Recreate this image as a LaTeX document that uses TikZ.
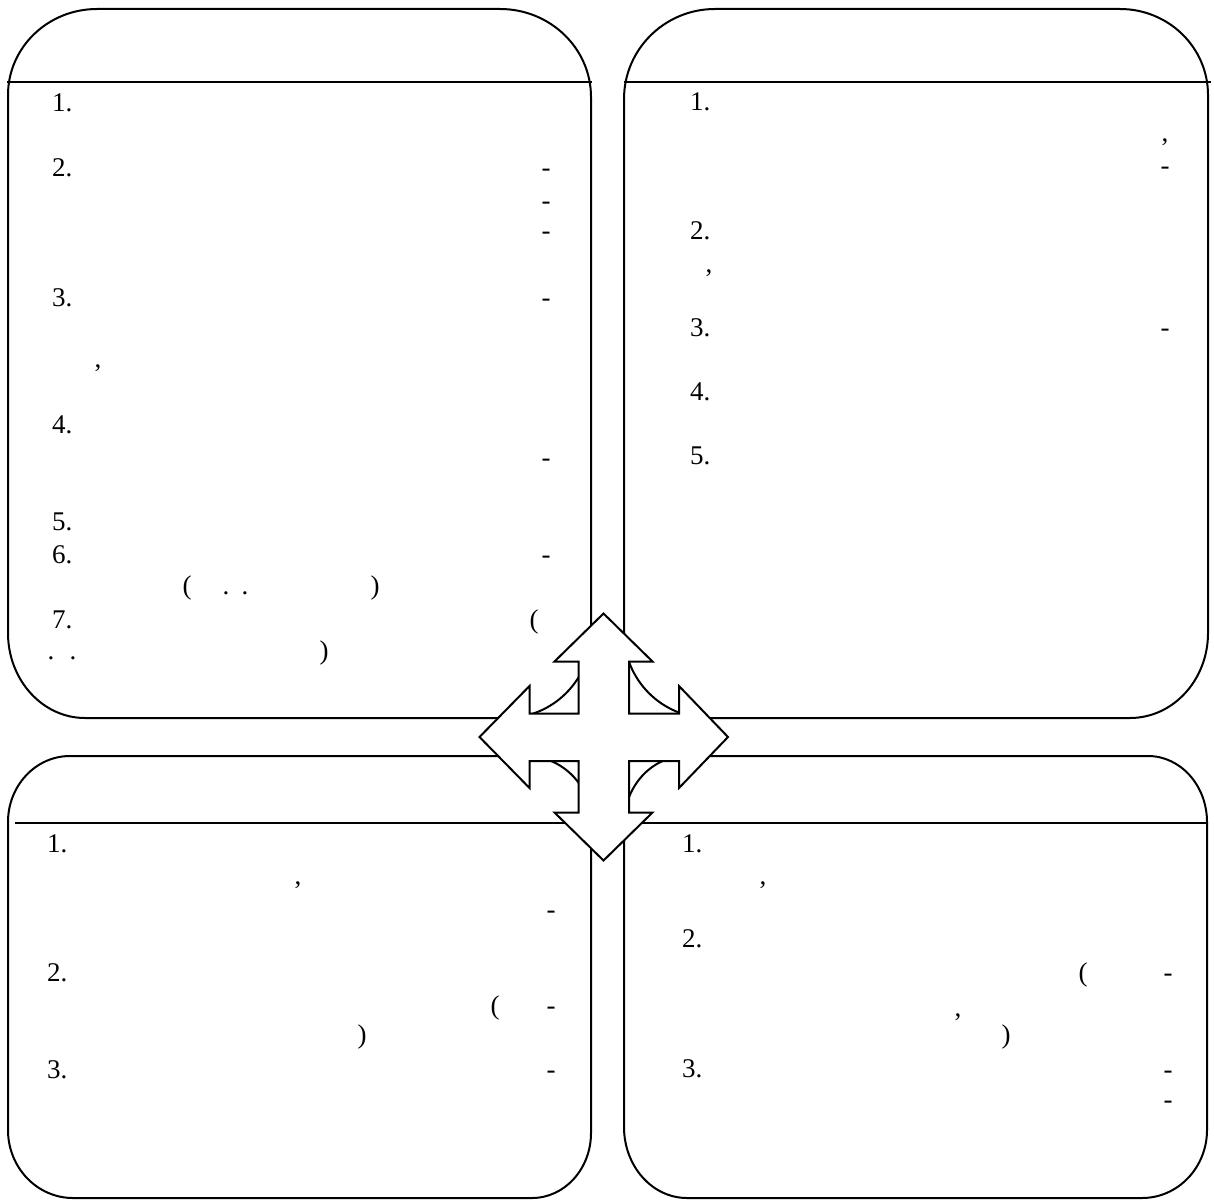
\documentclass[tikz,border=0pt]{standalone}
\usepackage{fontspec}
\setmainfont{Liberation Serif}
\usetikzlibrary{calc}
\newcommand\crn[3]{.. controls ($(#1)!0.5523!(#2)$) and ($(#3)!0.5523!(#2)$) .. (#3)}
\tikzset{
  boxline/.style={line width=2pt, line join=round},
  rule/.style={line width=2pt},
  arrowshape/.style={draw=black, fill=white, line width=2pt, line join=miter},
  num/.style={inner sep=0pt, outer sep=0pt, anchor=base west, font=\fontsize{27}{32}\selectfont},
  pun/.style={num, anchor=base},
}
\begin{document}
\begin{tikzpicture}[x=1pt,y=-1pt]
\useasboundingbox (0,0) rectangle (1214,1201);
\fill[white] (0,0) rectangle (1214,1201);

% ---- boxes ----
\draw[boxline] (8,95) \crn{8,95}{8,9}{97,9} -- (500,9) \crn{500,9}{591,9}{591,97}
  -- (591,633) \crn{591,633}{591,718}{506,718} -- (85,718) \crn{85,718}{8,718}{8,633} -- cycle;
\draw[boxline] (624,99) \crn{624,99}{624,9}{715,9} -- (1120,9) \crn{1120,9}{1208,9}{1208,95}
  -- (1208,633) \crn{1208,633}{1208,718}{1130,718} -- (709,718) \crn{709,718}{624,718}{624,633} -- cycle;
\draw[boxline] (8,822) \crn{8,822}{8,756}{70,756} -- (526,756) \crn{526,756}{591,756}{591,821}
  -- (591,1133) \crn{591,1133}{591,1198}{532,1198} -- (73,1198) \crn{73,1198}{8,1198}{8,1130} -- cycle;
\draw[boxline] (624,824) \crn{624,824}{624,756}{686,756} -- (1148,756) \crn{1148,756}{1207,756}{1207,822}
  -- (1207,1130) \crn{1207,1130}{1207,1198}{1142,1198} -- (687,1198) \crn{687,1198}{624,1198}{624,1127} -- cycle;

% ---- title rules ----
\draw[rule] (7,82.5) -- (592,82.5);
\draw[rule] (624,82.5) -- (1211,82.5);
\draw[rule] (15,822.5) -- (591,822.5);
\draw[rule] (624,823) -- (1208,823);

% ---- top-left box texts ----
\node[num] (a1) at (52,112) {1.};
\node[num] (a2) at (52,176) {2.};
\node[pun] (a2d1) at (546,176) {-};
\node[pun] (a2d2) at (546,209) {-};
\node[pun] (a2d3) at (546,239) {-};
\node[num] (a3) at (52,306) {3.};
\node[pun] (a3d) at (546,306) {-};
\node[pun] (a3c) at (98,367) {,};
\node[num] (a4) at (52,433) {4.};
\node[pun] (a4d) at (546,466) {-};
\node[num] (a5) at (52,530) {5.};
\node[num] (a6) at (52,563) {6.};
\node[pun] (a6d) at (546,563) {-};
\node[pun] (a6o) at (187,594) {(};
\node[pun] (a6p1) at (226,594) {.};
\node[pun] (a6p2) at (245,594) {.};
\node[pun] (a6c) at (375,594) {)};
\node[num] (a7) at (52,628) {7.};
\node[pun] (a7o) at (534,628) {(};
\node[pun] (a7p1) at (51,659) {.};
\node[pun] (a7p2) at (73,659) {.};
\node[pun] (a7c) at (324,659) {)};

% ---- top-right box texts ----
\node[num] (b1) at (690,111) {1.};
\node[pun] (b1c) at (1165,142) {,};
\node[pun] (b1d) at (1165,175) {-};
\node[num] (b2) at (690,239) {2.};
\node[pun] (b2c) at (709,272) {,};
\node[num] (b3) at (690,336) {3.};
\node[pun] (b3d) at (1165,336) {-};
\node[num] (b4) at (690,400) {4.};
\node[num] (b5) at (690,464) {5.};

% ---- bottom-left box texts ----
\node[num] (c1) at (47,852) {1.};
\node[pun] (c1c) at (298,884) {,};
\node[pun] (c1d) at (551,918) {-};
\node[num] (c2) at (47,981) {2.};
\node[pun] (c2o) at (495,1014) {(};
\node[pun] (c2d) at (551,1014) {-};
\node[pun] (c2c) at (362,1043) {)};
\node[num] (c3) at (47,1078) {3.};
\node[pun] (c3d) at (551,1078) {-};

% ---- bottom-right box texts ----
\node[num] (d1) at (682,852) {1.};
\node[pun] (d1c) at (763,884) {,};
\node[num] (d2) at (682,947) {2.};
\node[pun] (d2o) at (1083,981) {(};
\node[pun] (d2d) at (1168,981) {-};
\node[pun] (d2c) at (958,1016) {,};
\node[pun] (d2p) at (1006,1043) {)};
\node[num] (d3) at (682,1077) {3.};
\node[pun] (d3d1) at (1168,1078) {-};
\node[pun] (d3d2) at (1168,1108) {-};

% ---- four-way arrow ----
\draw[arrowshape] (603.5,613.5) -- (652.5,661.5) -- (629,661.5) -- (629,713.5) -- (679,713.5)
  -- (679,686) -- (728,737) -- (679,788) -- (679,761) -- (629,761) -- (629,812.5)
  -- (652.5,812.5) -- (603.5,860.5) -- (554.5,812.5) -- (578.5,812.5) -- (578.5,761)
  -- (529.5,761) -- (529.5,788) -- (479.5,737) -- (529.5,686) -- (529.5,713.5)
  -- (578.5,713.5) -- (578.5,661.5) -- (554.5,661.5) -- cycle;
\end{tikzpicture}
\end{document}
